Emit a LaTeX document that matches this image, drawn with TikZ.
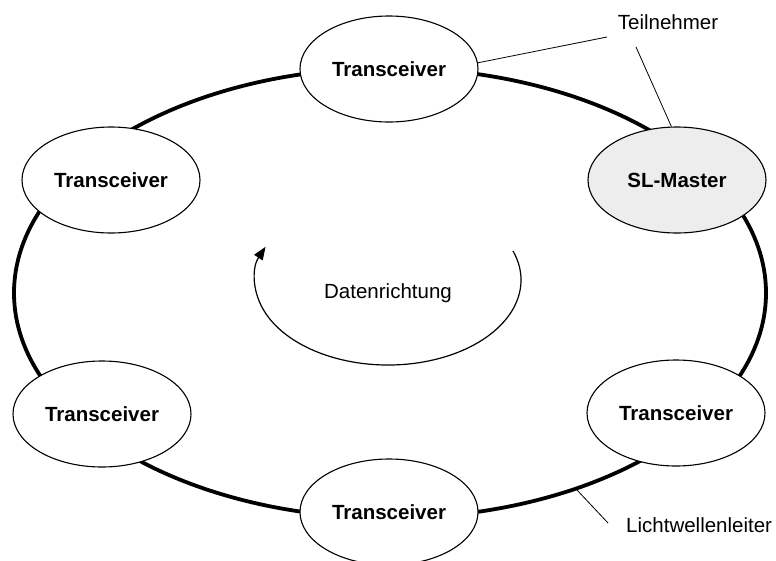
\documentclass[tikz,border=0pt]{standalone}
\usepackage{fontspec}
\setmainfont{Liberation Sans}
\usetikzlibrary{arrows.meta,shapes.geometric}
\definecolor{Ink}{HTML}{000000}
\definecolor{MasterGray}{HTML}{EDEDED}
\tikzset{
  station/.style={
    ellipse, draw=Ink, line width=1.1pt, fill=white,
    minimum width=178pt, minimum height=106pt, inner sep=0pt,
    font=\fontsize{20.5}{24}\selectfont\bfseries
  },
  note/.style={font=\fontsize{20.5}{24}\selectfont, inner sep=0pt},
  fibre/.style={line width=3.8pt, draw=Ink},
  leader/.style={line width=0.8pt, draw=Ink},
  dirflow/.style={-{Triangle[length=13pt,width=10pt]}, line width=1.2pt, draw=Ink}
}

\begin{document}
\begin{tikzpicture}[x=1pt,y=-1pt]
    \useasboundingbox (0,0) rectangle (776,560);
    % Ring
    \draw[fibre] (390,293) ellipse [x radius=376, y radius=225];
    \node[station] (top) at (389,69) {Transceiver};
    \node[station,fill=MasterGray] (master) at (677,180) {SL-Master};
    \node[station] (lefttop) at (111,180) {Transceiver};
    \node[station] (leftbot) at (102,414) {Transceiver};
    \node[station] (rightbot) at (676,413) {Transceiver};
    \node[station] (bottom) at (389,512) {Transceiver};
    % Datenrichtung
    \node[note] (dir) at (388,293) {Datenrichtung};
    \draw[dirflow] (388,280) ++(-20:133 and 85)
      arc[start angle=-20, end angle=203, x radius=133, y radius=85];
    % Beschriftung
    \node[note] (tn) at (668,22) {Teilnehmer};
    \coordinate (tnA) at (607,37);
    \coordinate (tnB) at (636,47);
    \draw[leader] (tnA) -- (top.4);
    \draw[leader] (tnB) -- (master.96);
    \node[note,anchor=west] (lwl) at (626,525) {Lichtwellenleiter};
    \coordinate (lwlA) at (608,523);
    \coordinate (fibrept) at (577,490);
    \draw[leader] (lwlA) -- (fibrept);
\end{tikzpicture}
\end{document}
